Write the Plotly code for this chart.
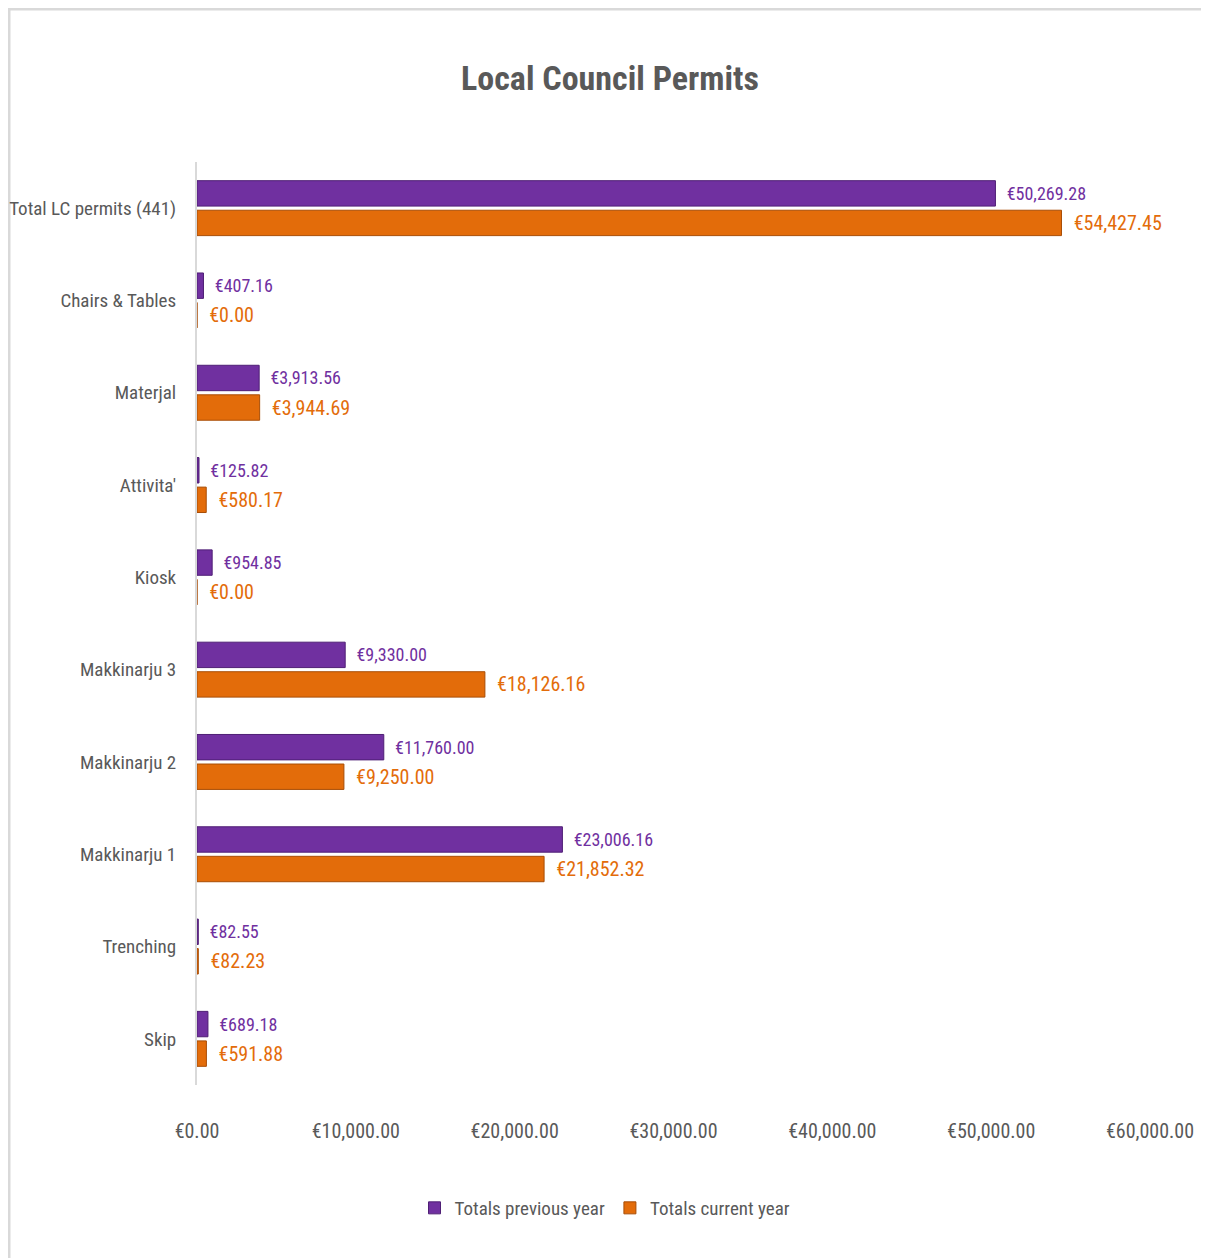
import plotly.graph_objects as go

categories = ["Total LC permits (441)", "Chairs & Tables", "Materjal", "Attivita'", "Kiosk",
              "Makkinarju 3", "Makkinarju 2", "Makkinarju 1", "Trenching", "Skip"]
previous_year = [50269.28, 407.16, 3913.56, 125.82, 954.85, 9330.00, 11760.00, 23006.16, 82.55, 689.18]
current_year = [54427.45, 0.00, 3944.69, 580.17, 0.00, 18126.16, 9250.00, 21852.32, 82.23, 591.88]
x_ticks = [0, 10000, 20000, 30000, 40000, 50000, 60000]
x_tick_labels = ["€0.00", "€10,000.00", "€20,000.00", "€30,000.00", "€40,000.00", "€50,000.00", "€60,000.00"]

FONT = "Roboto Condensed, Open Sans Condensed, DejaVu Sans Condensed, Liberation Sans Narrow, sans-serif"
PURPLE = "#7030A0"
ORANGE = "#E36C0A"
GREY = "#595959"

W, H = 1201, 1250
L, R, T, B = 189, 59, 154, 173
plot_w = W - L - R
plot_h = H - T - B

fig = go.Figure()
fig.add_trace(go.Bar(
    y=categories, x=previous_year, orientation="h", name="Totals previous year",
    marker=dict(color=PURPLE, line=dict(color="#4f1f75", width=1)),
    texttemplate="\u00a0\u00a0€%{x:,.2f}", textposition="outside",
    textfont=dict(family=FONT, size=18, color=PURPLE), cliponaxis=False,
))
fig.add_trace(go.Bar(
    y=categories, x=current_year, orientation="h", name="Totals current year",
    marker=dict(color=ORANGE, line=dict(color="#a84d06", width=1)),
    texttemplate="\u00a0\u00a0€%{x:,.2f}", textposition="outside",
    textfont=dict(family=FONT, size=20, color=ORANGE), cliponaxis=False,
))

fig.update_layout(
    width=W, height=H,
    paper_bgcolor="white", plot_bgcolor="white",
    margin=dict(l=L, r=R, t=T, b=B, autoexpand=False),
    barmode="group", bargap=0.36, bargroupgap=0.14,
    title=dict(text="<b>Local Council Permits</b>", x=(610 - 8) / W, xanchor="center",
               y=1 - 70 / H, yanchor="middle",
               font=dict(family=FONT, size=34, color=GREY)),
    font=dict(family=FONT, color=GREY),
    legend=dict(orientation="h", x=(605 - 197) / plot_w, xanchor="center",
                y=(plot_h + T - 1200) / plot_h, yanchor="middle",
                font=dict(family=FONT, size=19, color=GREY), traceorder="normal"),
    showlegend=True,
    xaxis=dict(range=[0, 60000], tickvals=x_ticks, ticktext=x_tick_labels, automargin=False,
               showgrid=False, zeroline=False, showline=False,
               tickfont=dict(family=FONT, size=20, color=GREY), ticks="", ticklabelstandoff=32),
    yaxis=dict(autorange="reversed", showgrid=False, showline=True, linecolor="#d9d9d9", linewidth=2,
               automargin=False,
               tickfont=dict(family=FONT, size=19, color=GREY), ticks="", ticklabelstandoff=15),
    shapes=[dict(type="rect", xref="paper", yref="paper",
                 x0=-(L - 1) / plot_w, x1=1.2, y0=-0.3, y1=(plot_h + T - 1) / plot_h,
                 line=dict(color="#d9d9d9", width=3), layer="below")],
)

fig.write_html("out.html")
